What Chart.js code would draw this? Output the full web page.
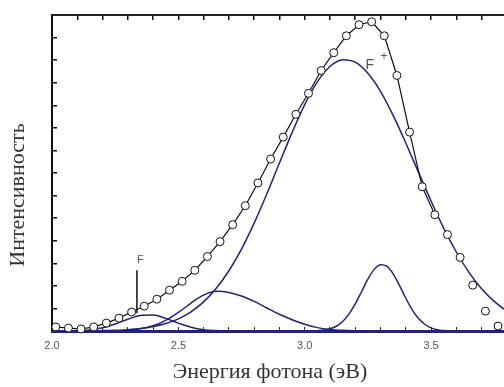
<!DOCTYPE html>
<html>
<head>
<meta charset="utf-8">
<script src="https://cdn.jsdelivr.net/npm/chart.js@4.4.0/dist/chart.umd.min.js"></script>
<style>
  html, body { margin: 0; padding: 0; background: #fff; overflow: hidden; }
  canvas { display: block; }
</style>
</head>
<body>
<canvas id="myChart" width="540" height="387"></canvas>
<script>
// measured spectrum (open circles)
const measX = [2.015, 2.065, 2.115, 2.165, 2.215, 2.265, 2.315, 2.365, 2.415, 2.465,
  2.515, 2.565, 2.615, 2.665, 2.715, 2.765, 2.815, 2.865, 2.915, 2.965,
  3.015, 3.065, 3.115, 3.165, 3.215, 3.265, 3.315, 3.365, 3.415, 3.465,
  3.515, 3.565, 3.615, 3.665, 3.715, 3.765];
const measY = [0.18, 0.13, 0.09, 0.18, 0.35, 0.57, 0.84, 1.10, 1.41, 1.81,
  2.20, 2.69, 3.30, 3.96, 4.71, 5.55, 6.56, 7.62, 8.59, 9.60,
  10.53, 11.54, 12.33, 13.08, 13.57, 13.70, 13.08, 11.32, 8.81, 6.39,
  5.15, 4.27, 3.26, 2.03, 0.88, 0.22];
const fitCount = 31; // черная линия идет только до 3.515

// F полоса
const fX = [2.05, 2.10, 2.15, 2.20, 2.25, 2.30, 2.35, 2.40, 2.45, 2.50, 2.55, 2.60, 2.65, 2.70, 2.75];
const fY = [0, 0.01, 0.05, 0.14, 0.31, 0.52, 0.69, 0.71, 0.56, 0.35, 0.17, 0.06, 0.02, 0, 0];

// широкая полоса ~2.65
const broadX = [2.20, 2.25, 2.30, 2.35, 2.40, 2.45, 2.50, 2.55, 2.60, 2.65, 2.70,
  2.75, 2.80, 2.85, 2.90, 2.95, 3.00, 3.05, 3.10, 3.15, 3.20, 3.25];
const broadY = [0, 0.01, 0.03, 0.10, 0.23, 0.47, 0.82, 1.24, 1.59, 1.76, 1.71,
  1.55, 1.31, 1.02, 0.74, 0.50, 0.30, 0.15, 0.07, 0.03, 0.01, 0];

// F+ полоса
const fPlusX = [2.20, 2.25, 2.30, 2.35, 2.40, 2.45, 2.50, 2.55, 2.60, 2.65,
  2.70, 2.75, 2.80, 2.85, 2.90, 2.95, 3.00, 3.05, 3.10, 3.15,
  3.20, 3.25, 3.30, 3.35, 3.40, 3.45, 3.50, 3.55, 3.60, 3.65,
  3.70, 3.75, 3.80, 3.85, 3.90];
const fPlusY = [0.02, 0.03, 0.06, 0.11, 0.20, 0.33, 0.54, 0.85, 1.29, 1.89,
  2.67, 3.63, 4.78, 6.07, 7.44, 8.79, 10.03, 11.04, 11.72, 12.02,
  11.91, 11.42, 10.62, 9.55, 8.33, 7.04, 5.76, 4.56, 3.50, 2.60,
  1.87, 1.31, 0.88, 0.57, 0.37];

// узкая полоса ~3.3
const g33X = [3.050, 3.075, 3.100, 3.125, 3.150, 3.175, 3.200, 3.225, 3.250, 3.275, 3.300,
  3.325, 3.350, 3.375, 3.400, 3.425, 3.450, 3.475, 3.500, 3.525, 3.550, 3.575];
const g33Y = [0.015, 0.04, 0.10, 0.21, 0.42, 0.75, 1.20, 1.74, 2.30, 2.73, 2.94,
  2.87, 2.53, 2.02, 1.45, 0.95, 0.56, 0.30, 0.14, 0.06, 0.025, 0.01];

// метка F (вертикальная черта)
const markLineX = [2.336, 2.336];
const markLineY = [0.79, 2.69];

// подписи
const labelText = ['F', 'F', '+'];
const labelX = [2.35, 3.258, 3.314];
const labelY = [3.13, 11.76, 12.16];

const xTickLabels = ['2.0', '2.5', '3.0', '3.5'];
const yTitle = 'Интенсивность        '; // хвостовые пробелы сдвигают подпись вниз
const xTitle = 'Энергия фотона (эВ)';

const navy = '#22227a';
const pxPerEv = 252.7; // масштаб оси X как на картинке

function pts(xs, ys) {
  return xs.map((x, i) => ({ x: x, y: ys[i] }));
}

function curve(xs, ys) {
  return {
    data: pts(xs, ys),
    showLine: true,
    borderColor: navy,
    borderWidth: 1.5,
    pointRadius: 0,
    cubicInterpolationMode: 'monotone',
    fill: false
  };
}

const labelPlugin = {
  id: 'labels',
  afterDatasetsDraw(chart) {
    const c = chart.ctx;
    const xs = chart.scales.x;
    const ys = chart.scales.y;
    const sizes = [11, 14, 12];
    c.save();
    c.fillStyle = '#555';
    c.textAlign = 'center';
    c.textBaseline = 'middle';
    labelText.forEach((t, i) => {
      c.font = sizes[i] + 'px "Liberation Sans", Arial, sans-serif';
      c.fillText(t, xs.getPixelForValue(labelX[i]), ys.getPixelForValue(labelY[i]));
    });
    c.restore();
  }
};

const ctx = document.getElementById('myChart');
const xMin = 2.0;
const xMax = 2.0 + (540 - 52) / pxPerEv;

const chart = new Chart(ctx, {
  type: 'scatter',
  data: {
    datasets: [
      {
        data: pts(measX, measY),
        showLine: false,
        pointRadius: 4,
        pointBorderWidth: 1,
        pointBorderColor: '#111',
        pointBackgroundColor: '#fff',
        clip: false
      },
      {
        data: pts(measX.slice(0, fitCount), measY.slice(0, fitCount)),
        showLine: true,
        borderColor: '#111',
        borderWidth: 1.2,
        pointRadius: 0,
        tension: 0
      },
      {
        data: pts(markLineX, markLineY),
        showLine: true,
        borderColor: '#111',
        borderWidth: 1.5,
        pointRadius: 0
      },
      curve(fPlusX, fPlusY),
      curve(g33X, g33Y),
      curve(broadX, broadY),
      curve(fX, fY)
    ]
  },
  options: {
    responsive: false,
    animation: false,
    devicePixelRatio: 1,
    layout: { padding: 0, autoPadding: false },
    plugins: {
      legend: { display: false },
      tooltip: { enabled: false },
      title: {
        display: true,
        position: 'bottom',
        text: xTitle,
        color: '#333',
        font: { family: '"Liberation Serif", "Times New Roman", serif', size: 22, weight: 'normal' },
        padding: { top: 0, bottom: 2 }
      }
    },
    scales: {
      x: {
        type: 'linear',
        position: 'bottom',
        min: xMin,
        max: xMax,
        afterFit: (s) => { s.height = 27.6; },
        ticks: {
          stepSize: 0.1,
          autoSkip: false,
          maxRotation: 0,
          padding: 12.4,
          color: '#555',
          font: { family: '"Liberation Sans", Arial, sans-serif', size: 11 },
          callback: (v) => {
            const lbl = v.toFixed(1);
            return xTickLabels.includes(lbl) && Math.abs(v * 2 - Math.round(v * 2)) < 1e-6 ? lbl : '';
          }
        },
        grid: { drawOnChartArea: false, tickLength: -4, color: navy, lineWidth: 1 },
        border: { color: navy, width: 3 }
      },
      xTop: {
        type: 'linear',
        position: 'top',
        min: xMin,
        max: xMax,
        afterFit: (s) => { s.height = 15; },
        ticks: { stepSize: 0.1, display: false },
        grid: { drawOnChartArea: false, tickLength: -5, color: '#111', lineWidth: 1.5 },
        border: { color: '#222', width: 2 }
      },
      y: {
        type: 'linear',
        position: 'left',
        min: 0,
        max: 14,
        afterFit: (s) => { s.width = 52; },
        ticks: { stepSize: 1, display: false },
        grid: { drawOnChartArea: false, tickLength: -5, color: '#111', lineWidth: 1.5 },
        border: { color: '#111', width: 2 },
        title: {
          display: true,
          text: yTitle,
          color: '#333',
          font: { family: '"Liberation Serif", "Times New Roman", serif', size: 22, weight: 'normal' },
          padding: { top: 5.5, bottom: 0 }
        }
      }
    }
  },
  plugins: [labelPlugin]
});

// подгоняем максимум оси X под фактическую ширину области графика
const area = chart.chartArea;
const fittedMax = xMin + (area.right - area.left) / pxPerEv;
chart.options.scales.x.max = fittedMax;
chart.options.scales.xTop.max = fittedMax;
chart.update();
</script>
</body>
</html>
